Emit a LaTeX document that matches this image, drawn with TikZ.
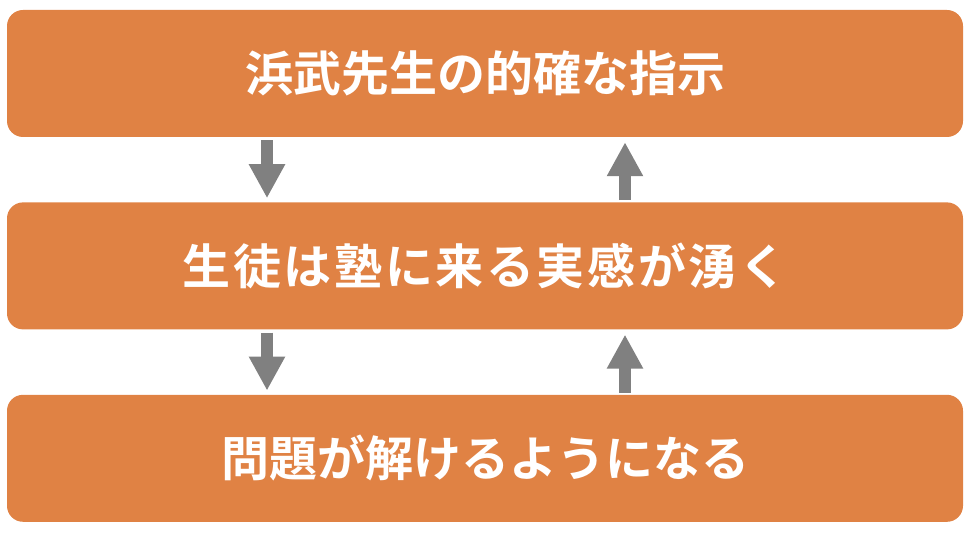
\documentclass[tikz,border=0pt]{standalone}
\usepackage{fontspec}
\usepackage{tikz}
\usetikzlibrary{positioning, arrows.meta}
\newfontfamily\cjk{Noto Sans CJK JP}[BoldFont={Noto Sans CJK JP Bold}]
\definecolor{stageorange}{HTML}{E08244}
\definecolor{flowgray}{HTML}{808080}

\begin{document}
\begin{tikzpicture}
        [
            x=1pt, y=1pt,
            stage/.style={rectangle, rounded corners=16pt, fill=stageorange,
                          text=white, minimum width=956pt, minimum height=127pt,
                          font=\cjk\bfseries\fontsize{48pt}{56pt}\selectfont},
            flow/.style={-{Triangle[width=34pt,length=34pt]}, line width=12pt, draw=flowgray}
        ]
        \useasboundingbox (0,0) rectangle (970,536);
        \node (advice) [stage] at (485,462.5) {浜武先生の的確な指示};
        \node (feel) [stage, below=65pt of advice] {\addfontfeatures{LetterSpace=5.4}生徒は塾に来る実感が湧く};
        \node (solve) [stage, below=65pt of feel] {問題が解けるようになる};
        \foreach \i/\j in {advice/feel,feel/solve}
        {
            \draw [flow, shorten <=3pt, shorten >=4pt] ([xshift=-218pt]\i.south) -- ([xshift=-218pt]\j.north);
            \draw [flow, shorten <=2pt, shorten >=5pt] ([xshift=140pt]\j.north) -- ([xshift=140pt]\i.south);
        }
    \end{tikzpicture}
\end{document}
